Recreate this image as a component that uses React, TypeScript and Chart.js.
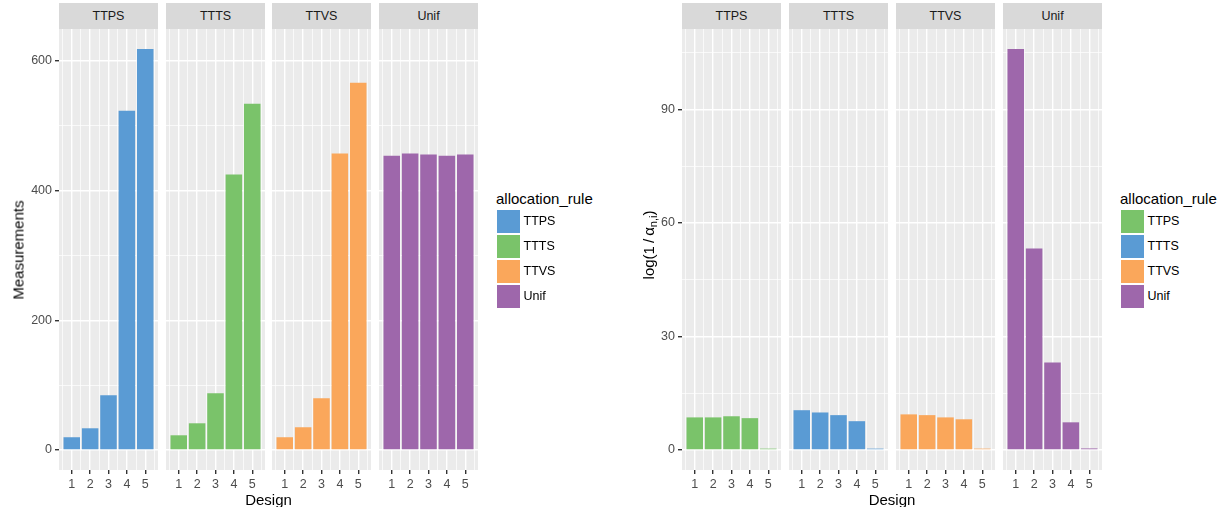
import React, { useEffect, useRef } from "react";
import { Chart, registerables } from "chart.js";
Chart.register(...registerables);

const FONT = "'Liberation Sans', Arial, Helvetica, sans-serif";

// ---------- data ----------
const designs = [1, 2, 3, 4, 5];
const rules = ["TTPS", "TTTS", "TTVS", "Unif"];

const measTTPS = [19.6, 33.4, 84.2, 523, 618];
const measTTTS = [22.6, 41.1, 87.3, 424.5, 533.8];
const measTTVS = [19.6, 35, 79.6, 456.8, 566];
const measUnif = [453.7, 456.8, 455.3, 453.7, 455.3];

const logTTPS = [8.6, 8.6, 8.9, 8.4, 0.35];
const logTTTS = [10.5, 9.9, 9.2, 7.6, 0.35];
const logTTVS = [9.4, 9.2, 8.6, 8.1, 0.35];
const logUnif = [105.9, 53.2, 23.1, 7.3, 0.4];

const measMajor = [0, 200, 400, 600];
const measMinor = [100, 300, 500];
const logMajor = [0, 30, 60, 90];
const logMinor = [15, 45, 75, 105];
const xMinorBreaks = [0.5, 1.5, 2.5, 3.5, 4.5, 5.5];

const BLUE = "#5A9BD4";
const GREEN = "#7AC36A";
const ORANGE = "#FAA75B";
const PURPLE = "#9E67AB";
const leftColors = [BLUE, GREEN, ORANGE, PURPLE];
const rightColors = [GREEN, BLUE, ORANGE, PURPLE];

const leftSeries = [measTTPS, measTTTS, measTTVS, measUnif];
const rightSeries = [logTTPS, logTTTS, logTTVS, logUnif];

// ---------- layout ----------
const PANEL_TOP = 29;
const PANEL_H = 441;
const PANEL_W = 99;
const AX = 50;
const XH = 30;
const leftPanelX = [59, 166, 272, 379];
const rightPanelX = [682, 789, 896, 1003];

const BAR_W = 0.9;
const xLo = designs[0] - BAR_W / 2;
const xHi = designs[designs.length - 1] + BAR_W / 2;
const xPad = 0.05 * (xHi - xLo);
const X_MIN = xLo - xPad;
const X_MAX = xHi + xPad;

const bgPlugin = {
  id: "panelBg",
  beforeDraw(chart: any) {
    const { ctx, chartArea } = chart;
    ctx.save();
    ctx.fillStyle = "#EBEBEB";
    ctx.fillRect(chartArea.left, chartArea.top, chartArea.width, chartArea.height);
    ctx.restore();
  },
};

function noPad(s: any) {
  s.paddingTop = 0;
  s.paddingBottom = 0;
  s.paddingLeft = 0;
  s.paddingRight = 0;
}

type PanelProps = {
  x: number;
  showY: boolean;
  values: number[];
  color: string;
  yMin: number;
  yMax: number;
  major: number[];
  minor: number[];
};

function BarPanel({ x, showY, values, color, yMin, yMax, major, minor }: PanelProps) {
  const ref = useRef<HTMLCanvasElement>(null);
  const w = PANEL_W + (showY ? AX : 0);
  const h = PANEL_H + XH;
  useEffect(() => {
    const yTicks = [...major, ...minor].filter((v) => v >= yMin && v <= yMax).sort((a, b) => a - b);
    const chart = new Chart(ref.current as HTMLCanvasElement, {
      type: "bar",
      data: {
        datasets: [
          {
            data: values.map((v, i) => ({ x: designs[i], y: v })),
            backgroundColor: color,
            borderWidth: 0,
            barPercentage: BAR_W,
            categoryPercentage: 1,
            xAxisID: "x",
          } as any,
        ],
      },
      plugins: [bgPlugin],
      options: {
        animation: false,
        responsive: false,
        devicePixelRatio: 1,
        layout: { padding: 0, autoPadding: false },
        plugins: { legend: { display: false }, tooltip: { enabled: false } },
        scales: {
          x: {
            type: "linear",
            position: "bottom",
            offset: false,
            min: X_MIN,
            max: X_MAX,
            afterBuildTicks: (s: any) => {
              s.ticks = designs.map((v) => ({ value: v }));
            },
            afterFit: (s: any) => {
              s.height = XH;
              noPad(s);
            },
            ticks: {
              autoSkip: false,
              maxRotation: 0,
              minRotation: 0,
              padding: 3,
              color: "#4D4D4D",
              font: { family: FONT, size: 12.5 },
              callback: (v: any) => String(v),
            },
            grid: {
              offset: false,
              color: "#FFFFFF",
              lineWidth: 1.4,
              drawTicks: true,
              tickLength: 4,
              tickWidth: 1.4,
              tickColor: "#333333",
            },
            border: { display: false },
          },
          x2: {
            type: "linear",
            position: "bottom",
            offset: false,
            min: X_MIN,
            max: X_MAX,
            afterBuildTicks: (s: any) => {
              s.ticks = xMinorBreaks.map((v) => ({ value: v }));
            },
            afterFit: (s: any) => {
              s.height = 0;
              noPad(s);
            },
            ticks: { display: false, autoSkip: false },
            grid: { offset: false, color: "#FFFFFF", lineWidth: 0.7, drawTicks: false },
            border: { display: false },
          },
          y: {
            type: "linear",
            min: yMin,
            max: yMax,
            afterBuildTicks: (s: any) => {
              s.ticks = yTicks.map((v) => ({ value: v }));
            },
            afterFit: (s: any) => {
              s.width = showY ? AX : 0;
              noPad(s);
            },
            ticks: {
              display: showY,
              autoSkip: false,
              padding: 3,
              color: "#4D4D4D",
              font: { family: FONT, size: 12.5 },
              callback: (v: any) => (major.includes(v) ? String(v) : ""),
            },
            grid: {
              color: "#FFFFFF",
              lineWidth: (c: any) => (c.tick && major.includes(c.tick.value) ? 1.4 : 0.7),
              drawTicks: showY,
              tickLength: 4,
              tickWidth: 1.4,
              tickColor: (c: any) => (c.tick && major.includes(c.tick.value) ? "#333333" : "rgba(0,0,0,0)"),
            },
            border: { display: false },
          },
        },
      } as any,
    });
    return () => chart.destroy();
  }, []);
  return (
    <canvas
      ref={ref}
      width={w}
      height={h}
      style={{ position: "absolute", left: x - (showY ? AX : 0), top: PANEL_TOP, width: w, height: h }}
    />
  );
}

function Strip({ x, label }: { x: number; label: string }) {
  return (
    <div
      style={{
        position: "absolute",
        left: x,
        top: 3,
        width: PANEL_W,
        height: 26,
        lineHeight: "26px",
        background: "#D9D9D9",
        color: "#1A1A1A",
        fontSize: 12.5,
        textAlign: "center",
        fontFamily: FONT,
      }}
    >
      {label}
    </div>
  );
}

function Legend({ x, colors }: { x: number; colors: string[] }) {
  return (
    <div style={{ position: "absolute", left: 0, top: 0, fontFamily: FONT }}>
      <div
        style={{
          position: "absolute",
          left: x - 1,
          top: 191.3,
          fontSize: 15,
          lineHeight: "15px",
          whiteSpace: "nowrap",
          color: "#000",
        }}
      >
        allocation_rule
      </div>
      {rules.map((r, i) => (
        <React.Fragment key={r}>
          <div
            style={{
              position: "absolute",
              left: x,
              top: 210 + i * 25,
              width: 23,
              height: 23,
              background: colors[i],
            }}
          />
          <div
            style={{
              position: "absolute",
              left: x + 26.5,
              top: 210 + i * 25,
              height: 23,
              lineHeight: "23px",
              fontSize: 12.5,
              color: "#000",
              whiteSpace: "nowrap",
            }}
          >
            {r}
          </div>
        </React.Fragment>
      ))}
    </div>
  );
}

function Facets({
  xs,
  series,
  colors,
  major,
  minor,
}: {
  xs: number[];
  series: number[][];
  colors: string[];
  major: number[];
  minor: number[];
}) {
  const M = Math.max(0, ...series.flat());
  const yMin = -0.05 * M;
  const yMax = 1.05 * M;
  return (
    <>
      {rules.map((r, i) => (
        <React.Fragment key={r}>
          <Strip x={xs[i]} label={r} />
          <BarPanel
            x={xs[i]}
            showY={i === 0}
            values={series[i]}
            color={colors[i]}
            yMin={yMin}
            yMax={yMax}
            major={major}
            minor={minor}
          />
        </React.Fragment>
      ))}
    </>
  );
}

export default function App() {
  const leftCenter = (leftPanelX[0] + leftPanelX[3] + PANEL_W) / 2;
  const rightCenter = (rightPanelX[0] + rightPanelX[3] + PANEL_W) / 2;
  const titleStyle: React.CSSProperties = {
    position: "absolute",
    fontFamily: FONT,
    fontSize: 15,
    lineHeight: "15px",
    color: "#000",
    whiteSpace: "nowrap",
  };
  return (
    <div
      style={{
        position: "absolute",
        left: 0,
        top: 0,
        width: 1228,
        height: 507,
        background: "#FFFFFF",
        overflow: "hidden",
      }}
    >
      <Facets xs={leftPanelX} series={leftSeries} colors={leftColors} major={measMajor} minor={measMinor} />
      <Facets xs={rightPanelX} series={rightSeries} colors={rightColors} major={logMajor} minor={logMinor} />

      <div style={{ ...titleStyle, left: leftCenter, top: 499, transform: "translate(-50%, -50%)" }}>Design</div>
      <div style={{ ...titleStyle, left: rightCenter, top: 499, transform: "translate(-50%, -50%)" }}>Design</div>

      <div style={{ ...titleStyle, left: 18, top: 249.5, transform: "translate(-50%, -50%) rotate(-90deg)" }}>
        Measurements
      </div>
      <div style={{ ...titleStyle, left: 648, top: 245, transform: "translate(-50%, -50%) rotate(-90deg)" }}>
        log(1{"\u2009"}/{"\u2009"}α<sub style={{ fontSize: 11, verticalAlign: "-3px", lineHeight: 0 }}>n,i</sub>)
      </div>

      <Legend x={497} colors={leftColors} />
      <Legend x={1121} colors={rightColors} />
    </div>
  );
}
